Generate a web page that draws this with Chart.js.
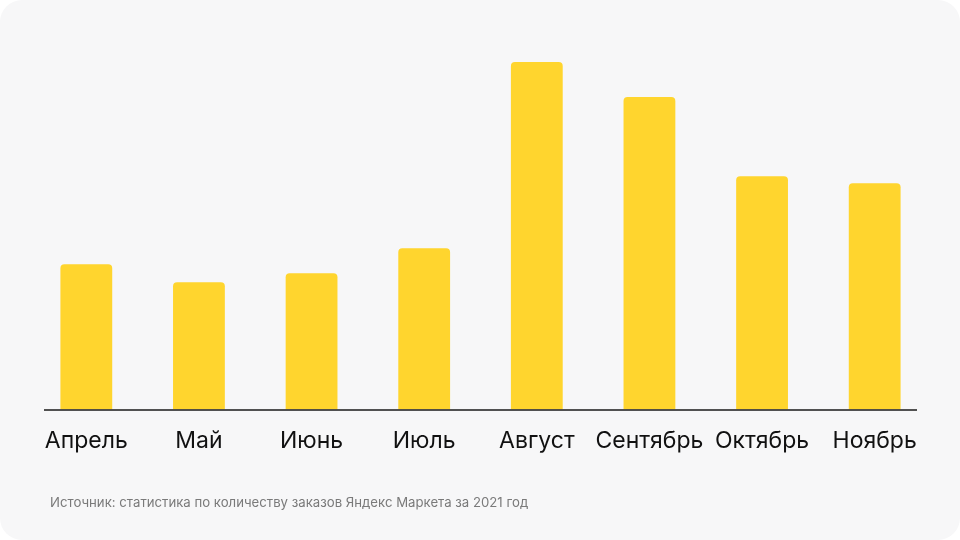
<!DOCTYPE html>
<html>
<head>
<meta charset="utf-8">
<script src="https://cdn.jsdelivr.net/npm/chart.js@4"></script>
<style>
  html, body { margin: 0; padding: 0; background: #ffffff; }
  #wrap { position: relative; width: 960px; height: 540px; background: #f7f7f8; border-radius: 22px; overflow: hidden; }
  #c { position: absolute; left: 0; top: 0; }
  #src { position: absolute; left: 50px; top: 494px; font-family: Inter, "Noto Sans", sans-serif; font-size: 13.2px; color: #7a7a7a; white-space: nowrap; }
</style>
</head>
<body>
<div id="wrap">
  <canvas id="c" width="960" height="540"></canvas>
  <div id="src">Источник: статистика по количеству заказов Яндекс Маркета за 2021 год</div>
</div>
<script>
const months = ["Апрель", "Май", "Июнь", "Июль", "Август", "Сентябрь", "Октябрь", "Ноябрь"];
const orders = [145, 127, 136, 161, 347, 312, 233, 226];
const yMax = 389;

const baseline = {
  id: 'baseline',
  afterDatasetsDraw(chart) {
    const ctx = chart.ctx;
    const y = chart.chartArea.bottom + 0.5;
    ctx.save();
    ctx.strokeStyle = '#1a1a1a';
    ctx.lineWidth = 1.5;
    ctx.beginPath();
    ctx.moveTo(44, y);
    ctx.lineTo(917, y);
    ctx.stroke();
    ctx.restore();
  }
};

new Chart(document.getElementById('c'), {
  type: 'bar',
  data: {
    labels: months,
    datasets: [{
      data: orders,
      backgroundColor: '#FFD52E',
      borderRadius: { topLeft: 4, topRight: 4, bottomLeft: 0, bottomRight: 0 },
      borderSkipped: 'bottom',
      barPercentage: 0.46,
      categoryPercentage: 1
    }]
  },
  options: {
    responsive: false,
    animation: false,
    layout: { padding: { left: 30, right: 29, top: 20, bottom: 75 } },
    plugins: { legend: { display: false }, tooltip: { enabled: false } },
    scales: {
      x: {
        grid: { display: false },
        border: { display: false },
        ticks: { color: '#111', font: { family: 'Inter, "Noto Sans", sans-serif', size: 23 }, padding: 10, maxRotation: 0, autoSkip: false }
      },
      y: { display: false, min: 0, max: yMax }
    }
  },
  plugins: [baseline]
});
</script>
</body>
</html>
